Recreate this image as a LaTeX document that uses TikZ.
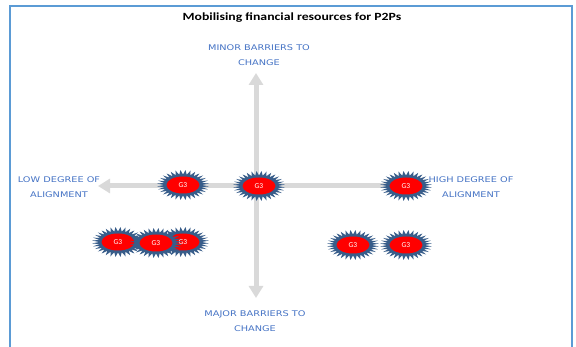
\documentclass[tikz,border=0pt]{standalone}
\usepackage{fontspec}
\setmainfont{Carlito}
\newfontfamily\axisfont{DejaVu Sans}
\usetikzlibrary{shapes, arrows.meta, positioning, calc}

\definecolor{framecol}{RGB}{91,155,213}
\definecolor{axiscol}{RGB}{217,217,217}
\definecolor{labelcol}{RGB}{68,114,196}
\definecolor{burstcol}{RGB}{56,93,138}

\begin{document}
\begin{tikzpicture}[x=1pt, y=-1pt,
  every node/.style={font=\small},
  axislabel/.style={text=labelcol, align=center, xscale=1.25, font=\axisfont\fontsize{7.8}{14.5}\selectfont},
  axisarrow/.style={draw=axiscol, line width=5pt, -{Triangle[width=14pt,length=12pt]}},
  core/.style={ellipse, fill=red, inner sep=0pt, minimum width=33pt, minimum height=17pt, text=white, font=\fontsize{7.5}{8}\selectfont},
  burst/.style={fill=burstcol}]
\useasboundingbox (0,0) rectangle (576,347);
% frame and title
\draw[framecol, line width=1.2pt] (10,347) -- (10,6) -- (572,6) -- (572,347);
\node[xscale=1.25, font=\bfseries\fontsize{11}{12}\selectfont] (title) at (292,18) {Mobilising financial resources for P2Ps};
% axes
\coordinate (O) at (256,186);
\coordinate (up) at (256,73);
\coordinate (down) at (256,298);
\coordinate (left) at (98,186);
\coordinate (right) at (420,186);
\draw[axisarrow] (O) -- (up);
\draw[axisarrow] (O) -- (down);
\draw[axisarrow] (O) -- (left);
\draw[axisarrow] (O) -- (right);
% axis labels
\node[axislabel] (minor) at (259,55) {MINOR BARRIERS TO\\CHANGE};
\node[axislabel] (major) at (255,321) {MAJOR BARRIERS TO\\CHANGE};
\node[axislabel] (low) at (59,187) {LOW DEGREE OF\\ALIGNMENT};
\node[axislabel] (high) at (471,187) {HIGH DEGREE OF\\ALIGNMENT};
% G3 bursts
\foreach \n/\cx/\cy in {g1/183/185, g2/259/186, g3/406/186, g4/118/242, g5/183/242, g6/156/243, g7/353/245, g8/406/245} {
  \fill[burst] plot[samples at={0,...,63}, variable=\k]
    ({\cx+(19+7*mod(\k,2))*cos(\k*5.625)}, {\cy+(10.5+4.5*mod(\k,2))*sin(\k*5.625)}) -- cycle;
  \node[core] (\n) at (\cx,\cy) {G3};
}
\end{tikzpicture}
\end{document}
